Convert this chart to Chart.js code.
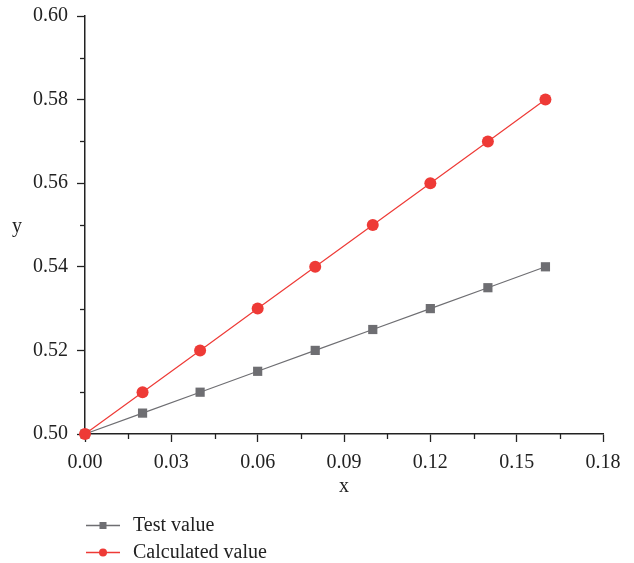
<!DOCTYPE html>
<html><head><meta charset="utf-8">
<script src="https://cdn.jsdelivr.net/npm/chart.js@4"></script>
<style>html,body{margin:0;padding:0;background:#fff}#wrap{width:634px;height:563px}</style>
</head><body><div id="wrap"><canvas id="c" width="634" height="563"></canvas></div>
<script>
const xValues = [0, 0.02, 0.04, 0.06, 0.08, 0.10, 0.12, 0.14, 0.16];
const testValues = [0.500, 0.505, 0.510, 0.515, 0.520, 0.525, 0.530, 0.535, 0.540];
const calcValues = [0.50, 0.51, 0.52, 0.53, 0.54, 0.55, 0.56, 0.57, 0.58];
const seriesNames = ['Test value', 'Calculated value'];
const xMinorTicks = [0.015, 0.045, 0.075, 0.105, 0.135, 0.165];
const yMinorTicks = [0.51, 0.53, 0.55, 0.57, 0.59];
const xTitle = 'x', yTitle = 'y';

const FONT = "'Liberation Serif', 'Times New Roman', serif";
const GRAY = '#6e6e72', RED = '#ee3a36';

const toPts = ys => xValues.map((x, i) => ({x, y: ys[i]}));

const extras = {
  id: 'extras',
  afterDraw(chart) {
    const ctx = chart.ctx, xs = chart.scales.x, ys = chart.scales.y, ca = chart.chartArea;
    ctx.save();
    ctx.strokeStyle = '#222'; ctx.lineWidth = 1.3;
    xMinorTicks.forEach(v => { const p = Math.round(xs.getPixelForValue(v)) + 0.5; ctx.beginPath(); ctx.moveTo(p, ca.bottom); ctx.lineTo(p, ca.bottom + 5); ctx.stroke(); });
    yMinorTicks.forEach(v => { const p = Math.round(ys.getPixelForValue(v)) + 0.5; ctx.beginPath(); ctx.moveTo(ca.left - 5, p); ctx.lineTo(ca.left, p); ctx.stroke(); });
    // axis titles
    ctx.fillStyle = '#222'; ctx.font = '20px ' + FONT; ctx.textAlign = 'center'; ctx.textBaseline = 'middle';
    ctx.fillText(xTitle, (ca.left + ca.right) / 2, 487);
    ctx.fillText(yTitle, 17, (ca.top + ca.bottom) / 2 + 2);
    // legend
    const rowsY = [525, 552];
    seriesNames.forEach((name, r) => {
      const ds = chart.data.datasets.find(d => d.label === name);
      const y = rowsY[r];
      ctx.strokeStyle = ds.borderColor; ctx.lineWidth = 1.3;
      ctx.beginPath(); ctx.moveTo(86, y + 0.5); ctx.lineTo(120, y + 0.5); ctx.stroke();
      ctx.fillStyle = ds.pointBackgroundColor;
      if (ds.pointStyle === 'rect') { ctx.fillRect(103 - 3.5, y - 3, 7, 7); }
      else { ctx.beginPath(); ctx.arc(103, y + 0.5, 4, 0, Math.PI * 2); ctx.fill(); }
      ctx.fillStyle = '#222'; ctx.textAlign = 'left'; ctx.textBaseline = 'middle';
      ctx.fillText(ds.label, 133, y + 1);
    });
    ctx.restore();
  }
};

new Chart(document.getElementById('c'), {
  type: 'line',
  data: {
    datasets: [
      { label: seriesNames[0], data: toPts(testValues), borderColor: GRAY, backgroundColor: GRAY, pointBackgroundColor: GRAY, pointBorderColor: GRAY,
        borderWidth: 1.2, pointStyle: 'rect', pointRadius: 6.5, pointBorderWidth: 0, order: 2, clip: false },
      { label: seriesNames[1], data: toPts(calcValues), borderColor: RED, backgroundColor: RED, pointBackgroundColor: RED, pointBorderColor: RED,
        borderWidth: 1.2, pointStyle: 'circle', pointRadius: 6, pointBorderWidth: 0, order: 1, clip: false }
    ]
  },
  options: {
    responsive: false, animation: false,
    layout: { padding: { left: 0, top: 16, right: 31, bottom: 0 } },
    plugins: { legend: { display: false }, tooltip: { enabled: false } },
    scales: {
      x: {
        type: 'linear', min: 0, max: 0.18,
        afterFit: s => { s.height = 129; s.paddingLeft = 0; s.paddingRight = 0; },
        border: { display: true, color: '#222', width: 1.5 },
        grid: { drawOnChartArea: false, drawTicks: true, tickLength: 8, color: '#222', tickWidth: 1.3 },
        ticks: { stepSize: 0.03, padding: 9, color: '#222', font: { family: FONT, size: 20 }, maxRotation: 0,
          callback: v => Number(v).toFixed(2) }
      },
      y: {
        type: 'linear', min: 0.5, max: 0.6,
        afterFit: s => { s.width = 85; s.paddingTop = 0; s.paddingBottom = 0; },
        border: { display: true, color: '#222', width: 1.5 },
        grid: { drawOnChartArea: false, drawTicks: true, tickLength: 8, color: '#222', tickWidth: 1.3 },
        ticks: { stepSize: 0.02, padding: 9, color: '#222', font: { family: FONT, size: 20 },
          callback: v => Number(v).toFixed(2) }
      }
    }
  },
  plugins: [extras]
});
</script></body></html>
